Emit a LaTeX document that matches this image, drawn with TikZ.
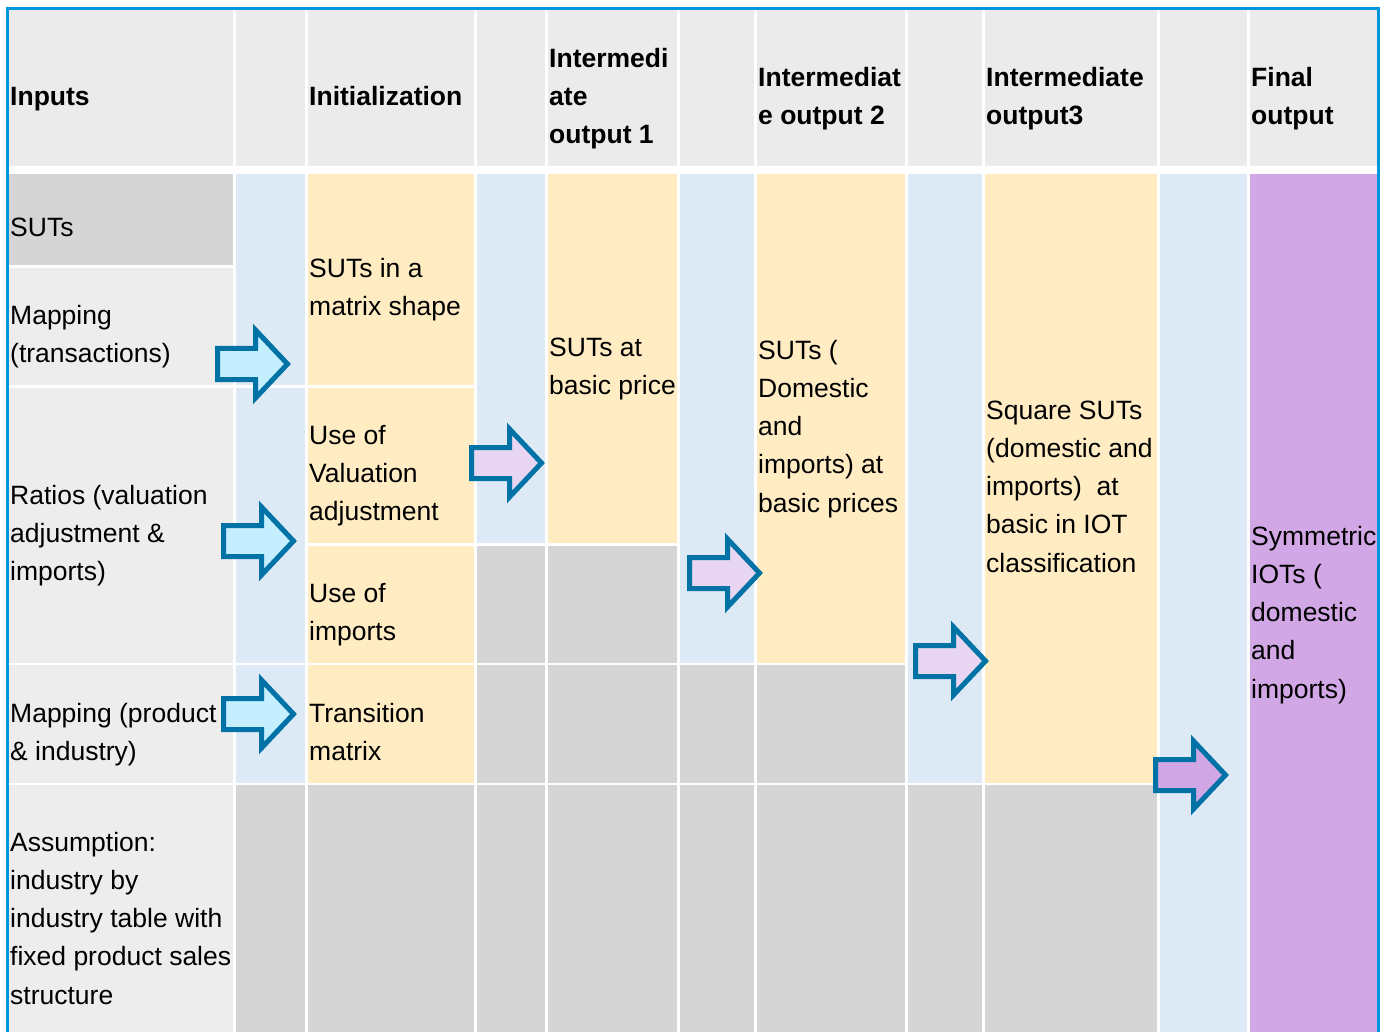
\documentclass[tikz,border=0pt]{standalone}
\usepackage{fontspec}
\setmainfont{Liberation Sans}
\definecolor{hdrc}{HTML}{EBEBEB}
\definecolor{lightc}{HTML}{EDEDED}
\definecolor{grayc}{HTML}{D5D5D5}
\definecolor{bluec}{HTML}{DEE9F6}
\definecolor{yelc}{HTML}{FFECC3}
\definecolor{purc}{HTML}{D1A7E5}
\definecolor{bordc}{HTML}{0096DB}
\definecolor{arrline}{HTML}{0072A6}
\definecolor{cyanf}{HTML}{C5EEFF}
\definecolor{lavf}{HTML}{E8D5F1}
\definecolor{purf}{HTML}{D1A6E4}
\tikzset{
  txt/.style={font=\fontsize{26.5}{38.3}\selectfont, align=left, inner sep=0pt, anchor=west},
  hdr/.style={txt, font=\fontsize{26.5}{38.3}\selectfont\bfseries},
  blockarrow/.pic={\path[pic actions, line width=5pt, line join=miter, miter limit=10]
     (2.5,-15.5) -- (40.5,-15.5) -- (40.5,-34) -- (72.5,0) -- (40.5,34) -- (40.5,15.5) -- (2.5,15.5) -- cycle;},
  inarrow/.style={draw=arrline, fill=cyanf},
  midarrow/.style={draw=arrline, fill=lavf},
  finarrow/.style={draw=arrline, fill=purf}
}
\begin{document}
\begin{tikzpicture}[x=1pt,y=-1pt]
\useasboundingbox (0,0) rectangle (1390,1032);
\fill[white] (0,0) rectangle (1390,1032);
% header row
\foreach \a/\b in {9/233,236/305,308/474,477/545,548/677,680/754,757/905,908/982,985/1157,1160/1247,1250/1377}
  \fill[hdrc] (\a,10) rectangle (\b,166);
% column 1
\fill[grayc] (9,174) rectangle (233,265);
\fill[lightc] (9,268) rectangle (233,385);
\fill[lightc] (9,388) rectangle (233,663);
\fill[lightc] (9,665) rectangle (233,783);
\fill[lightc] (9,785) rectangle (233,1032);
% column 2
\fill[bluec] (236,174) rectangle (305,385);
\fill[bluec] (236,388) rectangle (305,663);
\fill[bluec] (236,665) rectangle (305,783);
\fill[grayc] (236,785) rectangle (305,1032);
% column 3
\fill[yelc] (308,174) rectangle (474,385);
\fill[yelc] (308,388) rectangle (474,543);
\fill[yelc] (308,546) rectangle (474,663);
\fill[yelc] (308,665) rectangle (474,783);
\fill[grayc] (308,785) rectangle (474,1032);
% column 4
\fill[bluec] (477,174) rectangle (545,543);
\fill[grayc] (477,546) rectangle (545,663);
\fill[grayc] (477,665) rectangle (545,783);
\fill[grayc] (477,785) rectangle (545,1032);
% column 5
\fill[yelc] (548,174) rectangle (677,543);
\fill[grayc] (548,546) rectangle (677,663);
\fill[grayc] (548,665) rectangle (677,783);
\fill[grayc] (548,785) rectangle (677,1032);
% column 6
\fill[bluec] (680,174) rectangle (754,663);
\fill[grayc] (680,665) rectangle (754,783);
\fill[grayc] (680,785) rectangle (754,1032);
% column 7
\fill[yelc] (757,174) rectangle (905,663);
\fill[grayc] (757,665) rectangle (905,783);
\fill[grayc] (757,785) rectangle (905,1032);
% column 8
\fill[bluec] (908,174) rectangle (982,783);
\fill[grayc] (908,785) rectangle (982,1032);
% column 9
\fill[yelc] (985,174) rectangle (1157,783);
\fill[grayc] (985,785) rectangle (1157,1032);
% column 10
\fill[bluec] (1160,174) rectangle (1247,1032);
% column 11
\fill[purc] (1250,174) rectangle (1377,1032);
% outer border
\fill[bordc] (6,7) rectangle (1380,10);
\fill[bordc] (6,7) rectangle (9,1032);
\fill[bordc] (1377,7) rectangle (1380,1032);
% header texts
\node[hdr] (hInputs) at (10,98) {\strut Inputs};
\node[hdr] (hInit) at (309,98) {\strut Initialization};
\node[hdr] (hOut1) at (549,98) {\strut Intermedi\\\strut ate\\\strut output 1};
\node[hdr] (hOut2) at (758,98) {\strut Intermediat\\\strut e output 2};
\node[hdr] (hOut3) at (986,98) {\strut Intermediate\\\strut output3};
\node[hdr] (hFinal) at (1251,98) {\strut Final\\\strut output};
% body texts
\node[txt] (tSUTs) at (10,229) {\strut SUTs};
\node[txt] (tMapT) at (10,336) {\strut Mapping\\\strut (transactions)};
\node[txt] (tRatios) at (10,535) {\strut Ratios (valuation\\\strut adjustment \&\\\strut imports)};
\node[txt] (tMapP) at (10,734) {\strut Mapping (product\\\strut \& industry)};
\node[txt] (tAssum) at (10,920) {\strut Assumption:\\\strut industry by\\\strut industry table with\\\strut fixed product sales\\\strut structure};
\node[txt] (tMatrix) at (309,289) {\strut SUTs in a\\\strut matrix shape};
\node[txt] (tVal) at (309,475) {\strut Use of\\\strut Valuation\\\strut adjustment};
\node[txt] (tImp) at (309,614) {\strut Use of\\\strut imports};
\node[txt] (tTrans) at (309,734) {\strut Transition\\\strut matrix};
\node[txt] (tBasic) at (549,368) {\strut SUTs at\\\strut basic price};
\node[txt] (tDom) at (758,428) {\strut SUTs (\\\strut Domestic\\\strut and\\\strut imports) at\\\strut basic prices};
\node[txt] (tSquare) at (986,488) {\strut Square SUTs\\\strut (domestic and\\\strut imports)\ \ at\\\strut basic in IOT\\\strut classification};
\node[txt] (tSym) at (1251,614) {\strut Symmetric\\\strut IOTs (\\\strut domestic\\\strut and\\\strut imports)};
% block arrows
\pic[inarrow] at (215,364) {blockarrow};
\pic[inarrow] at (221,541) {blockarrow};
\pic[inarrow] at (221,714) {blockarrow};
\pic[midarrow] at (469,463) {blockarrow};
\pic[midarrow] at (687,573) {blockarrow};
\pic[midarrow] at (913,661) {blockarrow};
\pic[finarrow] at (1153,775) {blockarrow};
\end{tikzpicture}
\end{document}
